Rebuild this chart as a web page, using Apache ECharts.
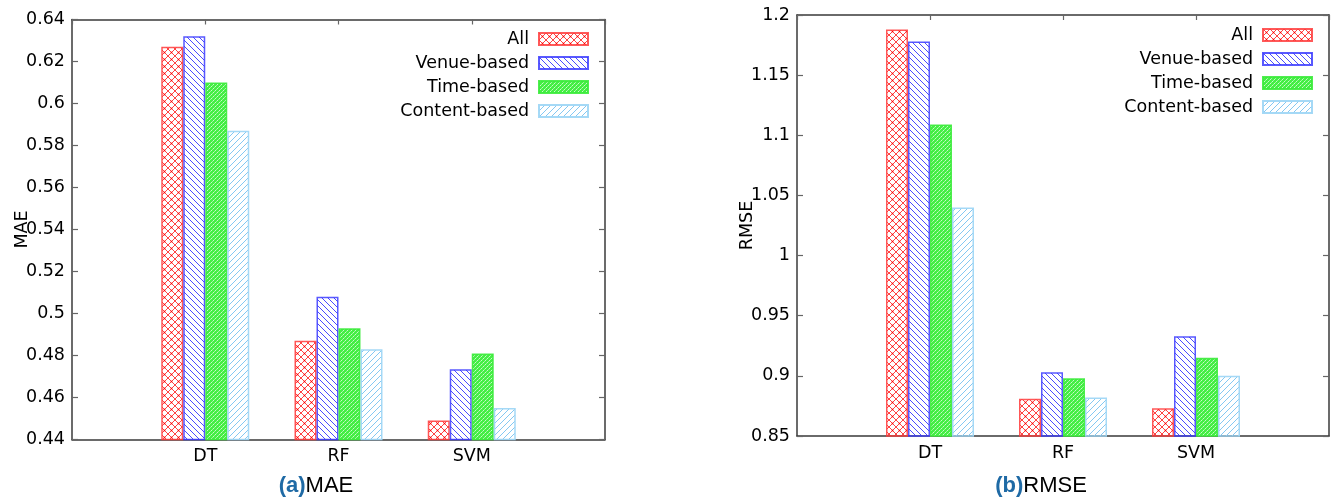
<!DOCTYPE html>
<html>
<head>
<meta charset="utf-8">
<script src="https://cdn.jsdelivr.net/npm/echarts@6/dist/echarts.min.js"></script>
<style>
  html, body { margin: 0; padding: 0; background: #fff; }
  #chart { width: 1341px; height: 498px; }
</style>
</head>
<body>
<div id="chart"></div>
<script>
// Categories (classifiers) and feature-set series
const categories = ['DT', 'RF', 'SVM'];
const seriesNames = ['All', 'Venue-based', 'Time-based', 'Content-based'];

// MAE per classifier
const maeAll     = [0.627, 0.487, 0.449];
const maeVenue   = [0.632, 0.508, 0.4735];
const maeTime    = [0.610, 0.493, 0.481];
const maeContent = [0.587, 0.483, 0.455];

// RMSE per classifier
const rmseAll     = [1.188, 0.881, 0.873];
const rmseVenue   = [1.178, 0.903, 0.933];
const rmseTime    = [1.109, 0.898, 0.915];
const rmseContent = [1.040, 0.882, 0.900];

// Value-axis ranges
const maeMin = 0.44, maeMax = 0.64, maeStep = 0.02;
const rmseMin = 0.85, rmseMax = 1.2, rmseStep = 0.05;

// Panel captions and axis titles
const captionTags = ['(a)', '(b)'];
const captionNames = ['MAE', 'RMSE'];

// ---- fill patterns ----
function makePattern(size, draw) {
  const c = document.createElement('canvas');
  c.width = c.height = size;
  const g = c.getContext('2d');
  draw(g, size);
  return { image: c, repeat: 'repeat' };
}
const patAll = makePattern(7, (g, s) => {
  g.strokeStyle = 'rgba(255,20,20,0.8)';
  g.lineWidth = 1;
  g.beginPath();
  for (let k = -1; k <= 1; k++) {
    g.moveTo(-1, -1 + k * s); g.lineTo(s + 1, s + 1 + k * s);
    g.moveTo(-1, s + 1 + k * s); g.lineTo(s + 1, -1 + k * s);
  }
  g.stroke();
  g.fillStyle = '#ff0000';
  g.fillRect(s / 2 - 0.75, s / 2 - 0.75, 1.5, 1.5);
});
const patVenue = makePattern(6, (g, s) => {
  g.strokeStyle = 'rgba(30,30,255,0.8)';
  g.lineWidth = 1;
  g.beginPath();
  for (let k = -1; k <= 1; k++) { g.moveTo(-1, -1 + k * s); g.lineTo(s + 1, s + 1 + k * s); }
  g.stroke();
});
const patTime = makePattern(4, (g, s) => {
  g.fillStyle = '#44ee44';
  g.fillRect(0, 0, s, s);
  g.fillStyle = '#c8fac8';
  g.fillRect(1, 0, 1, 1);
  g.fillRect(3, 2, 1, 1);
  g.fillStyle = '#9af59a';
  g.fillRect(0, 1, 1, 1);
  g.fillRect(2, 3, 1, 1);
});
const patContent = makePattern(6, (g, s) => {
  g.strokeStyle = 'rgba(110,190,240,0.85)';
  g.lineWidth = 1;
  g.beginPath();
  for (let k = 0; k <= 2; k++) { g.moveTo(-1, k * s + 1); g.lineTo(s + 1, k * s - s - 1); }
  g.stroke();
});
const fills = [patAll, patVenue, patTime, patContent];
const borders = ['rgba(255,60,60,0.85)', 'rgba(60,60,255,0.85)', 'rgba(60,235,60,0.9)', 'rgba(160,215,245,0.95)'];

// ---- shared styling ----
const tickFont = 'DejaVu Sans';
const frame = { color: '#3a3a3a', width: 1.5 };
const xCats = [''].concat(categories, ['']);
const pad = arr => ['-'].concat(arr, ['-']);

function xAxesFor(g) {
  return [
    { gridIndex: g, type: 'category', data: xCats, boundaryGap: false, position: 'bottom',
      axisLine: { lineStyle: frame }, axisTick: { show: false },
      axisLabel: { interval: 0, color: '#000', fontSize: 17.5, fontFamily: tickFont, margin: 8 },
      splitLine: { show: false } },
    { gridIndex: g, type: 'category', data: xCats, boundaryGap: false, position: 'top',
      axisLine: { lineStyle: frame },
      axisTick: { interval: 0, inside: true, length: 5, lineStyle: { color: '#666', width: 1.2 } },
      axisLabel: { show: false }, splitLine: { show: false } }
  ];
}
function yAxesFor(g, min, max, step, name) {
  return [
    { gridIndex: g, type: 'value', min, max, interval: step, position: 'left',
      axisLine: { show: true, lineStyle: frame },
      axisTick: { show: true, inside: true, length: 6, lineStyle: { color: '#666', width: 1.2 } },
      axisLabel: { color: '#000', fontSize: 17.5, fontFamily: tickFont, margin: 7 },
      splitLine: { show: false },
      name, nameLocation: 'middle', nameRotate: 90, nameGap: 41, nameMoveOverlap: false,
      nameTextStyle: { color: '#000', fontSize: 17.5, fontFamily: tickFont } },
    { gridIndex: g, type: 'value', min, max, interval: step, position: 'right',
      axisLine: { show: true, lineStyle: frame },
      axisTick: { show: true, inside: true, length: 6, lineStyle: { color: '#666', width: 1.2 } },
      axisLabel: { show: false }, splitLine: { show: false } }
  ];
}
function barSeries(g, values) {
  return values.map((vals, i) => ({
    name: seriesNames[i], type: 'bar', xAxisIndex: g * 2, yAxisIndex: g * 2,
    data: pad(vals), barWidth: 22, barGap: '0%',
    itemStyle: { color: fills[i], borderColor: borders[i], borderWidth: 1.5 },
    emphasis: { disabled: true }, animation: false
  }));
}
function legendFor(right, top) {
  return {
    data: seriesNames.map(n => ({ name: n, icon: 'rect' })),
    orient: 'vertical', align: 'right', right, top, padding: 0,
    itemWidth: 49, itemHeight: 12, itemGap: 4, selectedMode: false,
    textStyle: { color: '#000', fontSize: 17.5, fontFamily: tickFont, lineHeight: 20, padding: [0, 5, 0, 0] }
  };
}
function caption(i, center) {
  return {
    text: '{a|' + captionTags[i] + '}{b|' + captionNames[i] + '}',
    left: center, top: 475, textAlign: 'center', padding: 0,
    textStyle: { rich: {
      a: { fontSize: 22, fontWeight: 'bold', color: '#1f6aa5', fontFamily: 'Liberation Sans' },
      b: { fontSize: 22, fontWeight: 'normal', color: '#000', fontFamily: 'Liberation Sans' }
    } }
  };
}

const chart = echarts.init(document.getElementById('chart'), null, { renderer: 'canvas' });
chart.setOption({
  backgroundColor: '#fff',
  animation: false,
  title: [caption(0, 316), caption(1, 1041)],
  legend: [legendFor(1341 - 589, 29), legendFor(1341 - 1313, 25)],
  grid: [
    { left: 72, top: 19.5, width: 533, height: 420 },
    { left: 797, top: 15, width: 532, height: 421 }
  ],
  xAxis: xAxesFor(0).concat(xAxesFor(1)),
  yAxis: yAxesFor(0, maeMin, maeMax, maeStep, captionNames[0])
    .concat(yAxesFor(1, rmseMin, rmseMax, rmseStep, captionNames[1])),
  series: barSeries(0, [maeAll, maeVenue, maeTime, maeContent])
    .concat(barSeries(1, [rmseAll, rmseVenue, rmseTime, rmseContent]))
});
</script>
</body>
</html>
